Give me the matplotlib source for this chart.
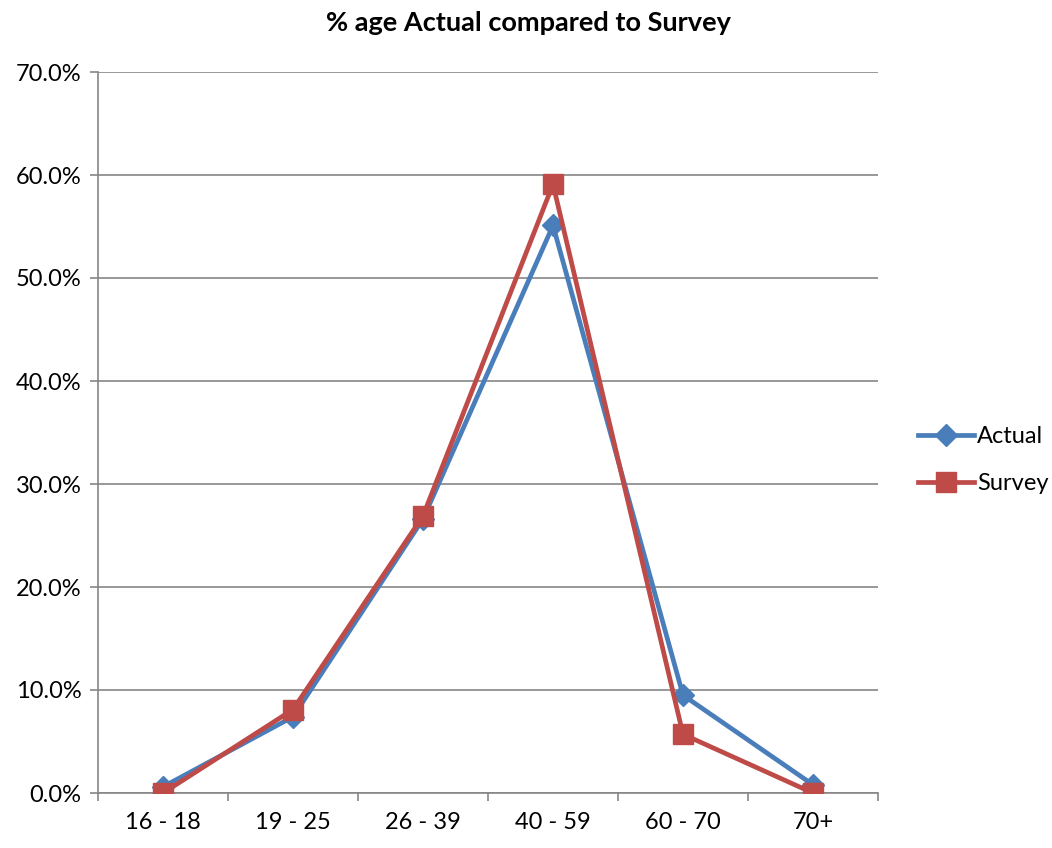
import matplotlib.pyplot as plt
import numpy as np
from matplotlib.ticker import FixedLocator, PercentFormatter

plt.rcParams['font.family'] = ['Lato', 'DejaVu Sans']

categories = ["16 - 18", "19 - 25", "26 - 39", "40 - 59", "60 - 70", "70+"]
actual = [0.6, 7.4, 26.6, 55.1, 9.5, 0.8]
survey = [0.0, 8.1, 26.9, 59.1, 5.7, 0.0]

fig = plt.figure(figsize=(10.52, 8.48), dpi=100)
ax = fig.add_axes([98 / 1052, 1 - 793 / 848, 780 / 1052, 721 / 848])

x = np.arange(len(categories))
ax.plot(x, actual, color="#4a7ebb", lw=3.4, marker="D", ms=11,
        label="Actual", zorder=3)
ax.plot(x, survey, color="#be4b48", lw=3.4, marker="s", ms=15,
        label="Survey", zorder=4)

ax.set_xlim(-0.5, 5.5)
ax.set_ylim(0, 70)
ax.set_yticks(np.arange(0, 71, 10))
ax.yaxis.set_major_formatter(PercentFormatter(decimals=1))
ax.grid(axis="y", color="#868686", lw=1.2)
ax.set_axisbelow(True)

ax.xaxis.set_major_locator(FixedLocator(np.arange(-0.5, 6, 1)))
ax.xaxis.set_minor_locator(FixedLocator(x))
ax.set_xticklabels([], minor=False)
ax.set_xticklabels(categories, minor=True)
ax.tick_params(axis="x", which="major", direction="out", length=6,
               color="#868686", width=1.2)
ax.tick_params(axis="x", which="minor", length=0, labelsize=17, pad=14)
ax.tick_params(axis="y", direction="out", length=6, color="#868686",
               width=1.2, labelsize=17, pad=6)

for side in ["top", "right"]:
    ax.spines[side].set_visible(False)
for side in ["left", "bottom"]:
    ax.spines[side].set_color("#868686")
    ax.spines[side].set_linewidth(1.2)

fig.suptitle("% age Actual compared to Survey", x=528 / 1052,
             y=1 - 23 / 848, va="center", fontsize=19.5, fontweight="bold")
ax.legend(loc="center left", bbox_to_anchor=(1.051, 0.462), frameon=False,
          fontsize=17, handlelength=2.4, labelspacing=1.1,
          handletextpad=0.1, borderpad=0, borderaxespad=0)

fig.savefig("out.png", dpi=100)
